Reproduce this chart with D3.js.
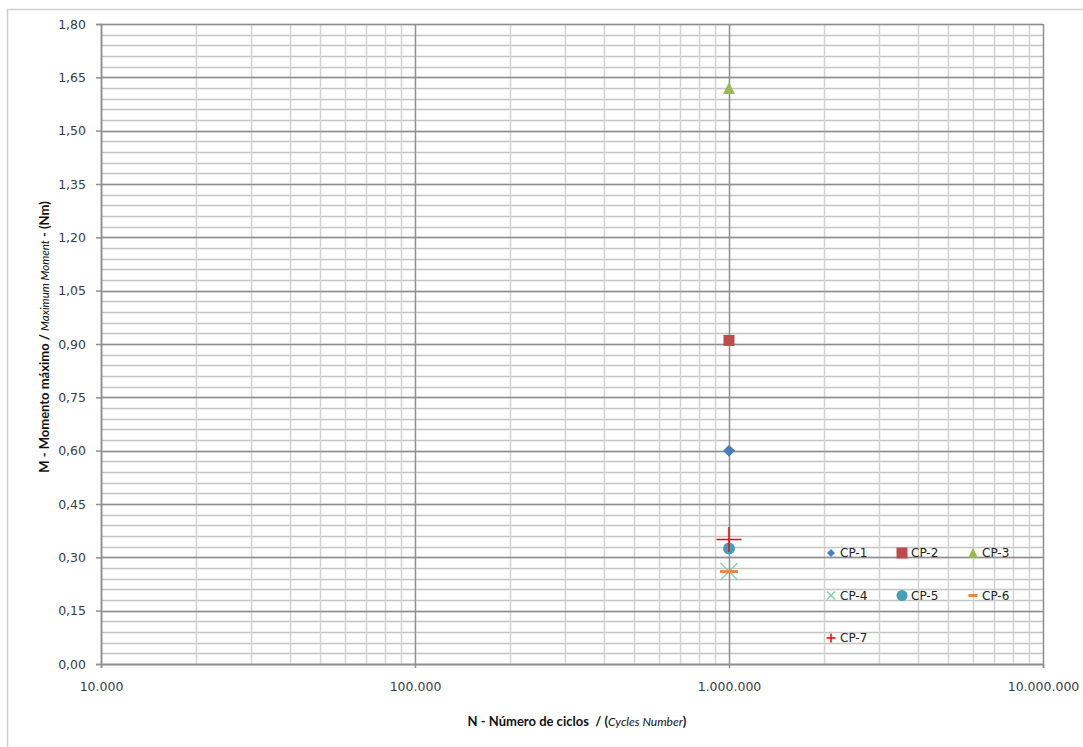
<!DOCTYPE html>
<html>
<head>
<meta charset="utf-8">
<script src="https://cdn.jsdelivr.net/npm/d3@7"></script>
<style>
  body { margin: 0; background: #fff; }
  svg { display: block; }
  .tick text { font-family: "DejaVu Sans", Verdana, sans-serif; font-size: 12.5px; fill: #3a3a4a; }
  .title { font-family: Lato, "Open Sans", sans-serif; font-size: 13px; fill: #111; }
  .legend text { font-family: "DejaVu Sans", Verdana, sans-serif; font-size: 12px; fill: #222; }
</style>
</head>
<body>
<div id="chart"></div>
<script>
/* global d3 */
// specimens, all tested at one million cycles
var seriesNames = ["CP-1", "CP-2", "CP-3", "CP-4", "CP-5", "CP-6", "CP-7"];
var cycles = [1000000, 1000000, 1000000, 1000000, 1000000, 1000000, 1000000];
var moments = [0.60, 0.91, 1.62, 0.26, 0.325, 0.26, 0.35];
var colors = ["#4a7ebb", "#be4b48", "#98b954", "#7fd3a4", "#43a0b9", "#e38b43", "#ff0000"];
var shapes = ["diamond", "square", "triangle", "x", "circle", "dash", "plus"];

var xDecades = [10000, 100000, 1000000, 10000000];
var yTicks = [0, 0.15, 0.30, 0.45, 0.60, 0.75, 0.90, 1.05, 1.20, 1.35, 1.50, 1.65, 1.80];

var width = 1083, height = 747;
var margin = {top: 24, right: 40, bottom: 83, left: 101};
var plotW = width - margin.left - margin.right,
    plotH = height - margin.top - margin.bottom;

var locale = d3.formatLocale({decimal: ",", thousands: ".", grouping: [3], currency: ["", ""]});
var fmtX = locale.format(",.0f"), fmtY = locale.format(".2f");

var x = d3.scaleLog().domain([10000, 10000000]).range([0, plotW]);
var y = d3.scaleLinear().domain([0, 1.8]).range([plotH, 0]);

var svg = d3.select("#chart").append("svg")
  .attr("width", width)
  .attr("height", height);

// chart area border (runs past the right edge)
svg.append("rect")
  .attr("x", 7.5).attr("y", 9.5)
  .attr("width", width + 20).attr("height", height + 20)
  .attr("fill", "none").attr("stroke", "#d0d0d0").attr("stroke-width", 1.5);

var g = svg.append("g")
  .attr("transform", "translate(" + margin.left + "," + margin.top + ")");

// minor grid
var minorX = [];
xDecades.slice(0, -1).forEach(function (d) {
  for (var k = 2; k <= 9; k++) minorX.push(d * k);
});
var minorY = d3.range(0, 61).map(function (i) { return i * 0.03; });

g.append("g").selectAll("line").data(minorY).enter().append("line")
  .attr("x1", 0).attr("x2", plotW)
  .attr("y1", function (d) { return Math.round(y(d)) + 0.5; })
  .attr("y2", function (d) { return Math.round(y(d)) + 0.5; })
  .attr("stroke", "#c4c4c4").attr("stroke-width", 1.5);

g.append("g").selectAll("line").data(minorX).enter().append("line")
  .attr("y1", 0).attr("y2", plotH)
  .attr("x1", function (d) { return Math.round(x(d)) + 0.5; })
  .attr("x2", function (d) { return Math.round(x(d)) + 0.5; })
  .attr("stroke", "#d2d2d2").attr("stroke-width", 1.5);

// major grid
g.append("g").selectAll("line").data(yTicks).enter().append("line")
  .attr("x1", 0).attr("x2", plotW)
  .attr("y1", function (d) { return Math.round(y(d)) + 0.5; })
  .attr("y2", function (d) { return Math.round(y(d)) + 0.5; })
  .attr("stroke", "#8e8e8e").attr("stroke-width", 1.5);

g.append("g").selectAll("line").data(xDecades).enter().append("line")
  .attr("y1", 0).attr("y2", plotH)
  .attr("x1", function (d) { return Math.round(x(d)) + 0.5; })
  .attr("x2", function (d) { return Math.round(x(d)) + 0.5; })
  .attr("stroke", "#8e8e8e").attr("stroke-width", 1.5);

// axes
var yAxis = g.append("g")
  .call(d3.axisLeft(y).tickValues(yTicks).tickFormat(fmtY).tickSize(5).tickPadding(10));
var xAxis = g.append("g")
  .attr("transform", "translate(0," + plotH + ")")
  .call(d3.axisBottom(x).tickValues(xDecades).tickFormat(fmtX).tickSize(4).tickPadding(14));
[yAxis, xAxis].forEach(function (a) {
  a.select(".domain").attr("stroke", "#8e8e8e").attr("stroke-width", 1.5);
  a.selectAll(".tick line").attr("stroke", "#8e8e8e").attr("stroke-width", 1.5);
});

// marker shapes
function marker(sel, shape, color, s) {
  var h = s / 2;
  if (shape === "diamond") {
    sel.append("path").attr("d", "M0," + (-h) + "L" + h + ",0L0," + h + "L" + (-h) + ",0Z").attr("fill", color);
  } else if (shape === "square") {
    sel.append("rect").attr("x", -h).attr("y", -h).attr("width", s).attr("height", s).attr("fill", color);
  } else if (shape === "triangle") {
    sel.append("path").attr("d", "M0," + (-h) + "L" + h + "," + h + "L" + (-h) + "," + h + "Z").attr("fill", color);
  } else if (shape === "circle") {
    sel.append("circle").attr("r", h).attr("fill", color);
  } else if (shape === "x") {
    sel.append("path").attr("d", "M" + (-h) + "," + (-h) + "L" + h + "," + h + "M" + h + "," + (-h) + "L" + (-h) + "," + h)
      .attr("stroke", color).attr("stroke-width", 1.4).attr("fill", "none");
  } else if (shape === "dash") {
    sel.append("rect").attr("x", -h).attr("y", -1.5).attr("width", s).attr("height", 3).attr("fill", color);
  } else if (shape === "plus") {
    sel.append("path").attr("d", "M" + (-h) + ",0L" + h + ",0M0," + (-h) + "L0," + h)
      .attr("stroke", color).attr("stroke-width", 1.5).attr("fill", "none");
  }
}

var plotSizes = [12, 11, 12, 17, 12, 18, 25];
var points = g.append("g").selectAll("g.pt")
  .data(seriesNames).enter().append("g")
  .attr("class", "pt")
  .attr("transform", function (d, i) { return "translate(" + x(cycles[i]) + "," + y(moments[i]) + ")"; });
points.each(function (d, i) { marker(d3.select(this), shapes[i], colors[i], plotSizes[i]); });

// legend (inside plot, no box)
var legendSizes = [8, 11, 10, 8, 11, 9, 9];
var legend = svg.append("g").attr("class", "legend");
var items = legend.selectAll("g").data(seriesNames).enter().append("g")
  .attr("transform", function (d, i) {
    return "translate(" + (831 + (i % 3) * 71) + "," + (553 + Math.floor(i / 3) * 42.5) + ")";
  });
items.each(function (d, i) { marker(d3.select(this), shapes[i], colors[i], legendSizes[i]); });
items.append("text").attr("x", 9).attr("dy", "0.36em").text(function (d) { return d; });

// axis titles
var xt = svg.append("text").attr("class", "title")
  .attr("x", 577).attr("y", 726).attr("text-anchor", "middle")
  .attr("xml:space", "preserve");
xt.append("tspan").attr("font-weight", "bold").text("N - Número de ciclos  / (");
xt.append("tspan").attr("font-style", "italic").attr("font-size", "12px").text("Cycles Number");
xt.append("tspan").attr("font-weight", "bold").text(")");

var yt = svg.append("text").attr("class", "title")
  .attr("transform", "translate(49,337) rotate(-90)")
  .attr("text-anchor", "middle");
yt.append("tspan").attr("font-weight", "bold").text("M - Momento máximo / ");
yt.append("tspan").attr("font-style", "italic").attr("font-size", "11.5px").text("Maximum Moment");
yt.append("tspan").attr("font-weight", "bold").text(" - (Nm)");
</script>
</body>
</html>
